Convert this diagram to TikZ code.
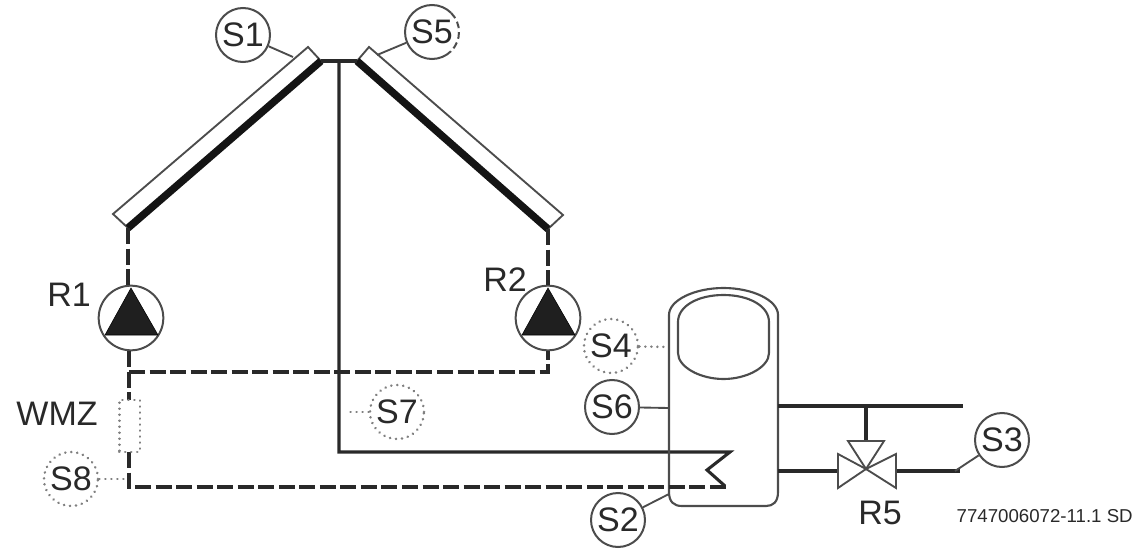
\documentclass[tikz,border=0pt]{standalone}
\usepackage{fontspec}
\setmainfont{Liberation Sans}
\definecolor{ink}{gray}{0.16}
\definecolor{soft}{gray}{0.3}
\definecolor{dots}{gray}{0.5}
\tikzset{
  x=0.75pt,y=-0.75pt,
  lab/.style={font=\fontsize{25.5}{26}\selectfont,text=ink,inner sep=0pt},
  sens/.style={lab,circle,draw=soft,line width=1.5pt,fill=white,minimum size=40.5pt},
  sensdot/.style={lab,circle,draw=dots,line width=2pt,dash pattern=on 0.1pt off 4.4pt,line cap=round,fill=white,minimum size=40.5pt},
  lead/.style={draw=soft,line width=1.4pt},
  leaddot/.style={draw=dots,line width=2pt,dash pattern=on 0.1pt off 4.4pt,line cap=round},
  pipe/.style={draw=ink,line width=2.3pt},
  dpipe/.style={draw=ink,line width=2.6pt,dash pattern=on 12pt off 3.4pt},
  thin/.style={draw=soft,line width=1.4pt},
  heavy/.style={draw=black!92,line width=5.6pt},
  pump/.style={circle,draw=soft,line width=1.5pt,fill=white,minimum size=48.5pt,inner sep=0pt},
  tri/.style={fill=black!88}
}
\begin{document}
\begin{tikzpicture}
\useasboundingbox (0,0) rectangle (1139,549);
% coordinates
\coordinate (LT) at (308,47); \coordinate (LR) at (321,61);
\coordinate (LB) at (113,214); \coordinate (LE) at (128,228);
\coordinate (RT) at (369,47); \coordinate (RL) at (357,61);
\coordinate (RB) at (563,215); \coordinate (RE) at (548,229);
\coordinate (J) at (339,62);
\coordinate (cb) at (339,452); \coordinate (ce) at (730,452);
\coordinate (z1) at (707,470); \coordinate (z2) at (725,486);
\coordinate (df) at (729,487); \coordinate (dc) at (129,487);
\coordinate (rj) at (129,372); \coordinate (rk) at (548,372);
% collectors
\draw[thin,fill=white] (LE)--(LB)--(LT)--(LR)--cycle;
\draw[thin,fill=white] (RE)--(RB)--(RT)--(RL)--cycle;
\draw[heavy] (LR)--(LE);
\draw[heavy] (RL)--(RE);
\draw[pipe] (LR)--(RL);
\draw[pipe] (J)--(cb)--(ce)--(z1)--(z2);
% tank
\draw[thin,line width=1.6pt] (669,315) .. controls (669,300) and (695,288) .. (723.5,288) .. controls (752,288) and (778,300) .. (778,315) -- (778,492) .. controls (778,502) and (773,506) .. (766,506) -- (682,506) .. controls (674,506) and (669,502) .. (669,492) -- cycle;
\draw[thin,line width=1.6pt] (678,322) .. controls (678,306) and (698,295) .. (723.5,295) .. controls (749,295) and (769,306) .. (769,322) -- (769,353) .. controls (769,367) and (747,379) .. (723.5,379) .. controls (700,379) and (678,367) .. (678,353) -- cycle;
% dashed circuits
\node[pump] (R1p) at (131,318) {};
\node[pump] (R2p) at (548,318) {};
\draw[tri] (131,288)--(158,335)--(105,335)--cycle;
\draw[tri] (548,288)--(575,335)--(522,335)--cycle;
\coordinate (WT) at (129,400); \coordinate (WB) at (129,452);
\draw[dpipe] (LE)--(R1p.north -| LE);
\draw[dpipe] (RE)--(R2p.north);
\draw[dpipe] (R1p.south -| rj)--(WT);
\draw[dpipe] (rj)--(rk)--(R2p.south);
\draw[dpipe] (WB)--(dc)--(df);
\node[draw=dots,line width=2pt,dash pattern=on 0.1pt off 4.4pt,line cap=round,minimum width=15.5pt,minimum height=39pt,inner sep=0pt] (WMZb) at (129.5,426) {};
% valve
\coordinate (V) at (866,469);
\draw[pipe] (778,406)--(963,406);
\draw[pipe] (866,406)--(866,441);
\draw[pipe] (778,471)--(838,471);
\draw[pipe] (896,471)--(960,471);
\draw[thin] (V)--(848,441)--(884,441)--cycle;
\draw[thin] (V)--(838,454)--(838,488)--cycle;
\draw[thin] (V)--(896,454)--(896,488)--cycle;
% sensors
\node[sens] (S1) at (243,35) {S1};
\node[sens] (S5) at (432,32) {S5};
\node[sensdot] (S4) at (611,346) {S4};
\node[sens] (S6) at (612,407) {S6};
\node[sens] (S2) at (618,520) {S2};
\node[sensdot] (S7) at (397,412) {S7};
\node[sensdot] (S8) at (71,479) {S8};
\node[sens] (S3) at (1002,440) {S3};
\draw[white,line width=2.4pt] (432,32) ++(-45:27) arc (-45:45:27);
\draw[soft,line width=1.5pt,dash pattern=on 5pt off 3pt] (432,32) ++(-45:27) arc (-45:45:27);
\coordinate (a1) at (293,57); \coordinate (a5) at (377,55);
\coordinate (a4) at (669,347); \coordinate (a6) at (669,408);
\coordinate (a2) at (669,494); \coordinate (a3) at (955,471);
\coordinate (a7) at (345,412); \coordinate (a8) at (125,479);
\draw[lead] (S1)--(a1);
\draw[lead] (S5)--(a5);
\draw[lead] (S6)--(a6);
\draw[lead] (S2)--(a2);
\draw[lead] (S3)--(a3);
\draw[leaddot] (S4)--(a4);
\draw[leaddot] (S7)--(a7);
\draw[leaddot] (S8)--(a8);
% labels
\node[lab] (tR1) at (69,295) {R1};
\node[lab] (tR2) at (505,280) {R2};
\node[lab] (tWMZ) at (57,414) {WMZ};
\node[lab] (tR5) at (880,513) {R5};
\node[text=ink,font=\fontsize{14}{15}\selectfont,anchor=east,inner sep=0pt] (code) at (1133,516) {7747006072-11.1 SD};
\end{tikzpicture}
\end{document}
